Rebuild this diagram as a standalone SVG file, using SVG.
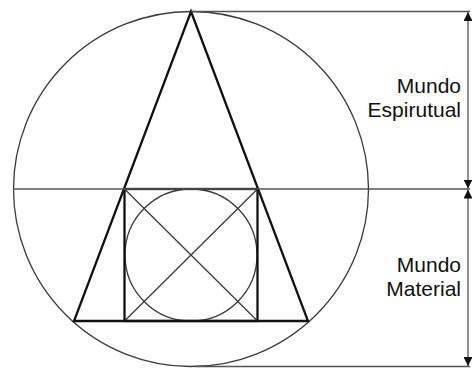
<svg xmlns="http://www.w3.org/2000/svg" width="472" height="368" viewBox="0 0 472 368">
<defs>
<style>
.thin{fill:none;stroke:#3a3a3a;stroke-width:1.3}
.thick{fill:none;stroke:#111;stroke-width:2.3;stroke-linejoin:miter}
.dim{fill:none;stroke:#555;stroke-width:1.3}
.lbl{font-family:"Liberation Sans",Arial,sans-serif;font-size:21px;fill:#111;text-anchor:end}
</style>
<marker id="ah" viewBox="0 0 10 10" refX="10" refY="5" markerWidth="9" markerHeight="9" markerUnits="userSpaceOnUse" orient="auto">
<path d="M0,0 L10,5 L0,10 Z" fill="#111"/>
</marker>
</defs>
<rect width="472" height="368" fill="#fff"/>
<g id="outer-circle"><circle class="thin" cx="191" cy="189" r="177.5"/></g>
<g id="inner-circle"><circle class="thin" cx="191" cy="255" r="66"/></g>
<g id="diagonals">
<line class="thin" x1="124.5" y1="189" x2="257.5" y2="321"/>
<line class="thin" x1="257.5" y1="189" x2="124.5" y2="321"/>
</g>
<g id="triangle"><polygon class="thick" points="191,11.5 308,321 74,321"/></g>
<g id="square"><rect class="thick" x="124.5" y="189" width="133" height="132"/></g>
<g id="connectors">
<line class="dim" x1="13" y1="189" x2="470" y2="189"/>
<line class="dim" x1="191" y1="11.5" x2="470" y2="11.5"/>
<line class="dim" x1="195" y1="366.5" x2="470" y2="366.5"/>
<line class="dim" x1="468" y1="100" x2="468" y2="12" marker-end="url(#ah)"/>
<line class="dim" x1="468" y1="100" x2="468" y2="188.5" marker-end="url(#ah)"/>
<line class="dim" x1="468" y1="278" x2="468" y2="189.5" marker-end="url(#ah)"/>
<line class="dim" x1="468" y1="278" x2="468" y2="366" marker-end="url(#ah)"/>
</g>
<g id="label-espiritual">
<text class="lbl" x="461" y="93">Mundo</text>
<text class="lbl" x="461" y="117">Espirutual</text>
</g>
<g id="label-material">
<text class="lbl" x="461" y="272">Mundo</text>
<text class="lbl" x="461" y="296">Material</text>
</g>
</svg>
